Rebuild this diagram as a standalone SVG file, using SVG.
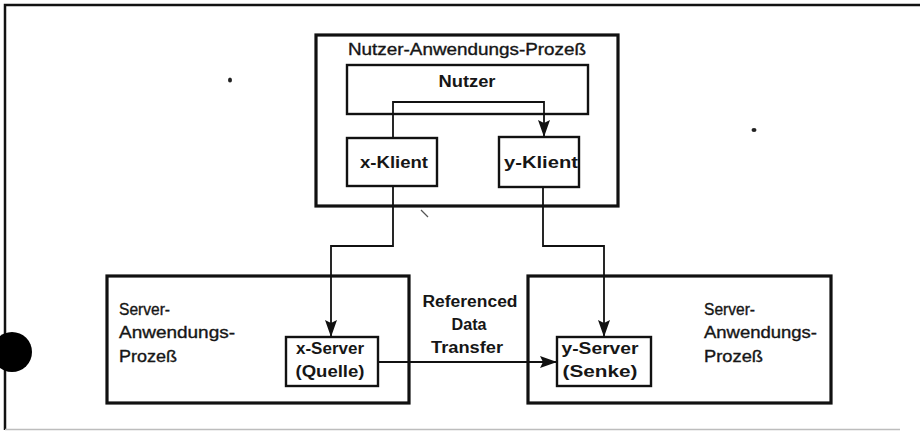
<svg xmlns="http://www.w3.org/2000/svg" width="920" height="433" viewBox="0 0 920 433">
  <defs>
    <marker id="arrow" markerUnits="userSpaceOnUse" markerWidth="18" markerHeight="13" refX="17" refY="6.5" orient="auto">
      <path d="M0,0.5 L17,6.5 L0,12.5 L3,6.5 Z" fill="#111"/>
    </marker>
    <style>
      .frame { fill: none; stroke: #111; stroke-width: 2.5; }
      .proc { fill: none; stroke: #111; stroke-width: 3.2; }
      .box { fill: none; stroke: #111; stroke-width: 2.4; }
      .wire { fill: none; stroke: #111; stroke-width: 1.8; }
      text { font-family: "Liberation Sans", Arial, sans-serif; font-size: 16px; font-weight: bold; fill: #161616; }
      .c { text-anchor: middle; }
      .t { font-weight: normal; stroke: #161616; stroke-width: 0.35; }
    </style>
  </defs>
  <rect width="920" height="433" fill="#fff"/>

  <!-- page frame -->
  <g id="frame">
    <path class="frame" d="M920,5 H5 V430"/>
    <path d="M5,429.5 H900" stroke="#bdbdbd" stroke-width="1.5" fill="none"/>
    <circle cx="12" cy="352" r="20" fill="#000"/>
  </g>

  <!-- user application process -->
  <g id="nutzer-prozess">
    <rect class="proc" x="316" y="35" width="302" height="171"/>
    <text class="c t" x="467" y="55" textLength="238" lengthAdjust="spacingAndGlyphs">Nutzer-Anwendungs-Prozeß</text>
  </g>
  <g id="nutzer">
    <rect class="box" x="347" y="65" width="241" height="49"/>
    <text class="c" x="467" y="87" textLength="57" lengthAdjust="spacingAndGlyphs">Nutzer</text>
  </g>
  <g id="x-klient">
    <rect class="box" x="347" y="138" width="90" height="48"/>
    <text class="c" x="394" y="168" textLength="68" lengthAdjust="spacingAndGlyphs">x-Klient</text>
  </g>
  <g id="y-klient">
    <rect class="box" x="499" y="137" width="80" height="50"/>
    <text class="c" x="541" y="168" textLength="74" lengthAdjust="spacingAndGlyphs">y-Klient</text>
  </g>

  <!-- server application process (source) -->
  <g id="server-prozess-links">
    <rect class="proc" x="107" y="276" width="302" height="127"/>
    <text class="t" x="119" y="315" textLength="51" lengthAdjust="spacingAndGlyphs">Server-</text>
    <text class="t" x="119" y="338" textLength="116" lengthAdjust="spacingAndGlyphs">Anwendungs-</text>
    <text class="t" x="119" y="362" textLength="58" lengthAdjust="spacingAndGlyphs">Prozeß</text>
  </g>
  <g id="x-server">
    <rect class="box" x="286" y="337" width="92" height="49"/>
    <text class="c" x="330" y="354" textLength="68" lengthAdjust="spacingAndGlyphs">x-Server</text>
    <text class="c" x="330" y="377" textLength="69" lengthAdjust="spacingAndGlyphs">(Quelle)</text>
  </g>

  <!-- server application process (sink) -->
  <g id="server-prozess-rechts">
    <rect class="proc" x="528" y="276" width="303" height="127"/>
    <text class="t" x="704" y="315" textLength="51" lengthAdjust="spacingAndGlyphs">Server-</text>
    <text class="t" x="704" y="338" textLength="113" lengthAdjust="spacingAndGlyphs">Anwendungs-</text>
    <text class="t" x="704" y="362" textLength="59" lengthAdjust="spacingAndGlyphs">Prozeß</text>
  </g>
  <g id="y-server">
    <rect class="box" x="557" y="337" width="94" height="49"/>
    <text class="c" x="600" y="354" textLength="77" lengthAdjust="spacingAndGlyphs">y-Server</text>
    <text class="c" x="600" y="377" textLength="75" lengthAdjust="spacingAndGlyphs">(Senke)</text>
  </g>

  <!-- connectors -->
  <g id="connectors">
    <path class="wire" d="M393,138 V102 H544 V137" marker-end="url(#arrow)"/>
    <path class="wire" d="M393,186 V246 H331 V337" marker-end="url(#arrow)"/>
    <path class="wire" d="M543,187 V246 H604 V337" marker-end="url(#arrow)"/>
    <path class="wire" d="M378,362 H557" marker-end="url(#arrow)"/>
    <g id="transfer-label">
      <text class="c" x="470" y="307" textLength="95" lengthAdjust="spacingAndGlyphs">Referenced</text>
      <text class="c" x="469" y="330" textLength="35" lengthAdjust="spacingAndGlyphs">Data</text>
      <text class="c" x="467" y="353" textLength="72" lengthAdjust="spacingAndGlyphs">Transfer</text>
    </g>
  </g>

  <!-- specks -->
  <g id="specks" fill="#222">
    <ellipse cx="230" cy="80" rx="2" ry="2.5"/>
    <ellipse cx="754" cy="130" rx="2.5" ry="2"/>
    <path d="M421,210 L428,217" stroke="#555" stroke-width="1.2"/>
  </g>
</svg>
